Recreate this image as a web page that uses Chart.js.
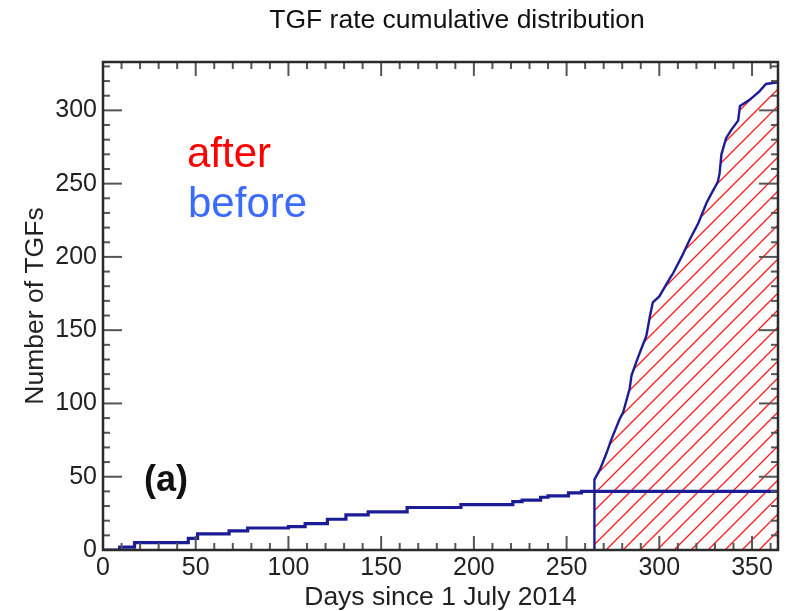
<!DOCTYPE html>
<html>
<head>
<meta charset="utf-8">
<script src="https://cdn.jsdelivr.net/npm/chart.js@4.4.1/dist/chart.umd.min.js"></script>
<style>
  html, body { margin: 0; padding: 0; background: #fff; }
</style>
</head>
<body>
<canvas id="graph" width="787" height="611"></canvas>
<script>
// cumulative number of TGFs
var beforeDays   = [0, 9, 17, 46, 51, 68, 78, 100, 109, 121, 131, 143, 164, 193, 221, 226, 236, 240, 251, 258, 364];
var beforeCounts = [0, 2, 5, 8, 11, 13, 15, 16, 18, 21, 24, 26, 29, 31, 33, 34, 36, 37, 39, 40, 40];

var afterDays   = [265, 265, 268, 271.5, 274, 278.5, 280.5, 284, 285, 287.5, 290.5, 293, 295, 296.5, 300, 305.5, 307.5, 312, 316.5, 321, 325.5, 328, 331.5, 332.5, 333.5, 336, 339, 342.5, 343.5, 348.5, 354, 357.5, 363, 364];
var afterCounts = [0, 48, 55, 66, 75, 89, 94, 110, 119, 128, 138, 146, 160, 169, 173, 185, 189, 200, 212, 223, 237, 243, 251, 257, 270, 281, 287, 293, 303, 307, 313, 318, 319, 319];

var xTickLabels = [0, 50, 100, 150, 200, 250, 300, 350];
var yTickLabels = [0, 50, 100, 150, 200, 250, 300];

function toPoints(xs, ys) {
  return xs.map(function(x, i) { return { x: x, y: ys[i] }; });
}

// red diagonal hatch
function makeHatch() {
  var s = 17;
  var c = document.createElement('canvas');
  c.width = s; c.height = s;
  var g = c.getContext('2d');
  g.strokeStyle = '#ff1a1a';
  g.lineWidth = 1.3;
  g.beginPath();
  g.moveTo(0, s); g.lineTo(s, 0);
  g.moveTo(-2, 2); g.lineTo(2, -2);
  g.moveTo(s - 2, s + 2); g.lineTo(s + 2, s - 2);
  g.stroke();
  return g.createPattern(c, 'repeat');
}

var navy = '#1c1c96';
var font = '"Liberation Sans", Arial, sans-serif';

// inward ticks on all four sides, the frame and the free text
var framePlugin = {
  id: 'frame',
  afterDraw: function(chart) {
    var ctx = chart.ctx, a = chart.chartArea;
    var xs = chart.scales.x, ys = chart.scales.y;
    function seg(x1, y1, x2, y2) { ctx.beginPath(); ctx.moveTo(x1, y1); ctx.lineTo(x2, y2); ctx.stroke(); }
    ctx.save();
    ctx.strokeStyle = '#555';
    ctx.lineWidth = 2;
    for (var d = 10; d < xs.max; d += 10) {
      var px = xs.getPixelForValue(d);
      var len = d % 50 === 0 ? 14 : 7;
      seg(px, a.bottom, px, a.bottom - len);
      seg(px, a.top, px, a.top + len);
    }
    for (var n = 10; n < ys.max; n += 10) {
      var py = ys.getPixelForValue(n);
      var l2 = n % 50 === 0 ? 19 : 7;
      seg(a.left, py, a.left + l2, py);
      seg(a.right, py, a.right - l2, py);
    }
    ctx.strokeStyle = '#2a2a2a';
    ctx.lineWidth = 2.5;
    ctx.strokeRect(a.left, a.top, a.right - a.left, a.bottom - a.top);

    ctx.textBaseline = 'alphabetic';
    ctx.fillStyle = '#111';
    ctx.font = '26.5px ' + font;
    ctx.textAlign = 'center';
    ctx.fillText('TGF rate cumulative distribution', 457, 28);

    ctx.textAlign = 'left';
    ctx.fillStyle = '#ff0000';
    ctx.font = '42px ' + font;
    ctx.fillText('after', 187, 167);
    ctx.fillStyle = '#3b6bff';
    ctx.fillText('before', 188, 217);

    ctx.fillStyle = '#111';
    ctx.font = 'bold 36px ' + font;
    ctx.fillText('(a)', 144, 491);
    ctx.restore();
  }
};

var ctx = document.getElementById('graph').getContext('2d');
new Chart(ctx, {
  type: 'line',
  data: {
    datasets: [{
      label: 'before',
      data: toPoints(beforeDays, beforeCounts),
      borderColor: navy,
      borderWidth: 3.2,
      stepped: 'before',
      pointRadius: 0,
      fill: false
    },
    {
      label: 'after',
      data: toPoints(afterDays, afterCounts),
      borderColor: navy,
      borderWidth: 2.4,
      backgroundColor: makeHatch(),
      pointRadius: 0,
      tension: 0,
      fill: 'origin'
    }]
  },
  options: {
    responsive: false,
    animation: false,
    layout: { padding: { top: 62, right: 9, left: 0, bottom: 0 } },
    plugins: {
      legend: { display: false },
      tooltip: { enabled: false }
    },
    scales: {
      x: {
        type: 'linear',
        min: 0,
        max: 364,
        grid: { display: false, drawTicks: false },
        border: { display: false },
        ticks: {
          stepSize: 50,
          includeBounds: false,
          padding: 3,
          color: '#222',
          maxRotation: 0,
          font: { family: font, size: 25 },
          callback: function(v) { return xTickLabels.indexOf(v) >= 0 ? String(v) : ''; }
        },
        title: {
          display: true,
          text: 'Days since 1 July 2014',
          color: '#222',
          padding: 0,
          font: { family: font, size: 26.5, lineHeight: 1 }
        },
        afterFit: function(s) { s.height = 61; }
      },
      y: {
        min: 0,
        max: 333,
        grid: { display: false, drawTicks: false },
        border: { display: false },
        ticks: {
          stepSize: 50,
          includeBounds: false,
          padding: 6,
          color: '#222',
          font: { family: font, size: 25 },
          callback: function(v) { return yTickLabels.indexOf(v) >= 0 ? String(v) : ''; }
        },
        title: {
          display: true,
          text: 'Number of TGFs',
          color: '#222',
          padding: { top: 20, bottom: 0 },
          font: { family: font, size: 26.5 }
        },
        afterFit: function(s) { s.width = 103; }
      }
    }
  },
  plugins: [framePlugin]
});
</script>
</body>
</html>
